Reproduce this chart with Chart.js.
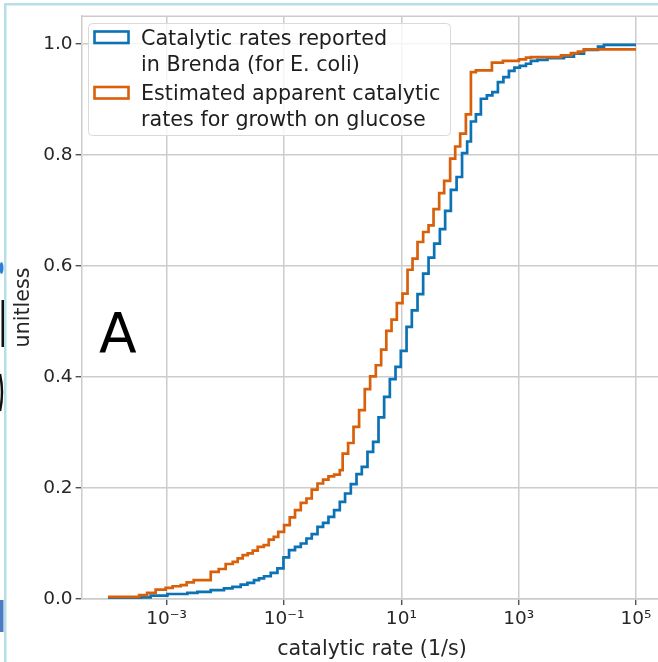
<!DOCTYPE html>
<html><head><meta charset="utf-8">
<script src="https://cdn.jsdelivr.net/npm/chart.js@4.4.1/dist/chart.umd.min.js"></script>
<style>
html,body{margin:0;padding:0;overflow:hidden;background:#fff;width:658px;height:662px}
#wrap{position:absolute;left:0;top:0;width:700px;height:662px}
</style></head><body>
<div id="wrap"><canvas id="c" width="700" height="662"></canvas></div>
<script>
// ---- data (log10 of catalytic rate where each step starts, cumulative fraction) ----
const brendaExp = [-4.000,-3.444,-3.273,-2.988,-2.647,-2.476,-2.249,-2.023,-1.879,-1.738,-1.623,-1.511,-1.426,-1.340,-1.226,-1.112,-1.009,-0.914,-0.812,-0.714,-0.617,-0.527,-0.429,-0.334,-0.242,-0.146,-0.049,0.041,0.139,0.236,0.326,0.423,0.519,0.611,0.707,0.804,0.901,0.991,1.089,1.179,1.276,1.372,1.464,1.560,1.657,1.747,1.844,1.942,2.035,2.122,2.186,2.271,2.356,2.458,2.552,2.646,2.740,2.834,2.928,3.021,3.124,3.209,3.320,3.490,3.772,3.942,4.113,4.352,4.454,5.000];
const brendaCum = [0.002,0.003,0.006,0.009,0.011,0.013,0.016,0.019,0.022,0.026,0.029,0.034,0.037,0.041,0.047,0.055,0.075,0.088,0.094,0.100,0.109,0.117,0.130,0.137,0.148,0.160,0.175,0.190,0.207,0.225,0.238,0.265,0.283,0.327,0.364,0.396,0.418,0.447,0.490,0.520,0.549,0.586,0.615,0.640,0.666,0.699,0.737,0.760,0.803,0.824,0.860,0.873,0.901,0.907,0.913,0.931,0.940,0.951,0.957,0.960,0.964,0.969,0.971,0.974,0.977,0.982,0.989,0.995,0.998,0.998];
const glucoseExp = [-4.000,-3.469,-3.333,-3.188,-3.017,-2.898,-2.761,-2.659,-2.539,-2.249,-2.113,-1.994,-1.874,-1.789,-1.704,-1.618,-1.533,-1.448,-1.345,-1.260,-1.175,-1.098,-0.999,-0.902,-0.812,-0.714,-0.617,-0.527,-0.429,-0.334,-0.242,-0.146,-0.049,0.000,0.093,0.185,0.280,0.377,0.468,0.565,0.656,0.744,0.833,0.923,1.020,1.106,1.191,1.276,1.372,1.464,1.549,1.645,1.730,1.832,1.918,2.003,2.100,2.186,2.271,2.544,2.731,3.004,3.124,3.209,3.721,3.891,4.011,4.113,5.000];
const glucoseCum = [0.004,0.007,0.011,0.017,0.020,0.023,0.025,0.030,0.034,0.049,0.054,0.063,0.067,0.073,0.079,0.082,0.087,0.094,0.097,0.107,0.112,0.121,0.133,0.147,0.160,0.173,0.181,0.197,0.208,0.215,0.221,0.224,0.232,0.262,0.281,0.310,0.340,0.378,0.401,0.421,0.449,0.483,0.503,0.533,0.550,0.593,0.613,0.643,0.661,0.673,0.702,0.731,0.753,0.793,0.815,0.838,0.873,0.949,0.952,0.966,0.969,0.972,0.975,0.976,0.979,0.983,0.986,0.990,0.990];

const seriesNames = [['Catalytic rates reported','in Brenda (for E. coli)'],['Estimated apparent catalytic','rates for growth on glucose']];
const xTickExp = [-3,-1,1,3,5];
const xTickLabels = ['10\u207B\u00B3','10\u207B\u00B9','10\u00B9','10\u00B3','10\u2075'];
const yTicks = [0,0.2,0.4,0.6,0.8,1.0];
const xRangeExp = [-4.45, 5.45];
const yRange = [0, 1.05];

const BLUE = '#0a72b5';
const ORANGE = '#d9600b';
const GRID = '#cccccc';
const FONT = '"DejaVu Sans", sans-serif';

const toPoints = (ex, cum) => ex.map((e,i)=>({x: Math.pow(10,e), y: cum[i]}));

Chart.defaults.font.family = FONT;

const decor = {
  id: 'decor',
  beforeDraw(chart){
    const ctx = chart.ctx; ctx.save();
    ctx.fillStyle = '#fff'; ctx.fillRect(0,0,chart.width,chart.height);
    ctx.restore();
  },
  beforeDatasetsDraw(chart){
    const {ctx, chartArea:a} = chart; ctx.save();
    ctx.strokeStyle = GRID; ctx.lineWidth = 1.5;
    ctx.beginPath(); ctx.moveTo(a.left, a.top+0.25); ctx.lineTo(a.right, a.top+0.25);
    ctx.moveTo(a.right, a.top); ctx.lineTo(a.right, a.bottom); ctx.stroke();
    ctx.restore();
  },
  afterDatasetsDraw(chart){
    const ctx = chart.ctx; ctx.save();
    // legend box
    const bx=88.5, by=23.5, bw=362, bh=112, r=4;
    ctx.beginPath();
    ctx.moveTo(bx+r,by); ctx.lineTo(bx+bw-r,by); ctx.arcTo(bx+bw,by,bx+bw,by+r,r);
    ctx.lineTo(bx+bw,by+bh-r); ctx.arcTo(bx+bw,by+bh,bx+bw-r,by+bh,r);
    ctx.lineTo(bx+r,by+bh); ctx.arcTo(bx,by+bh,bx,by+bh-r,r);
    ctx.lineTo(bx,by+r); ctx.arcTo(bx,by,bx+r,by,r); ctx.closePath();
    ctx.fillStyle='rgba(255,255,255,0.8)'; ctx.fill();
    ctx.strokeStyle='#d9d9d9'; ctx.lineWidth=1; ctx.stroke();
    const cols=[BLUE,ORANGE], sw=[31.5,87], base=[[45,71],[100,126]];
    ctx.font = '20.7px '+FONT; ctx.fillStyle='#1e1e1e'; ctx.textBaseline='alphabetic'; ctx.textAlign='left';
    for(let i=0;i<2;i++){
      ctx.strokeStyle=cols[i]; ctx.lineWidth=2.6;
      ctx.strokeRect(94.5, sw[i], 34, 11.5);
      ctx.fillText(seriesNames[i][0], 141, base[i][0]);
      ctx.fillText(seriesNames[i][1], 141, base[i][1]);
    }
    // panel letter
    ctx.font = '55px '+FONT; ctx.fillStyle='#000';
    ctx.fillText('A', 99, 352);
    ctx.restore();
  },
  afterDraw(chart){
    const ctx = chart.ctx; ctx.save();
    // clipped neighbour-panel remnants at far left
    ctx.fillStyle='#2f7fd6'; ctx.beginPath(); ctx.ellipse(1.5,268,2,6,0,0,Math.PI*2); ctx.fill();
    ctx.fillStyle='#111'; ctx.fillRect(1.5,300,2.5,47);
    ctx.strokeStyle='#111'; ctx.lineWidth=2.5; ctx.beginPath();
    ctx.moveTo(0,374); ctx.quadraticCurveTo(4,392,0,411); ctx.stroke();
    ctx.fillStyle='#4b7cc4'; ctx.fillRect(0,600,3.5,32);
    // light-blue frame of the figure
    ctx.fillStyle='#b7dfe6';
    ctx.fillRect(4,3,700,2.5);
    ctx.fillRect(4,3,2.5,662);
    ctx.restore();
  }
};

new Chart(document.getElementById('c'), {
  type: 'line',
  data: {
    datasets: [
      { label: seriesNames[0].join(' '), data: toPoints(brendaExp, brendaCum), borderColor: BLUE,
        borderWidth: 2.7, pointRadius: 0, fill: false, stepped: 'before', order: 2, borderJoinStyle: 'miter' },
      { label: seriesNames[1].join(' '), data: toPoints(glucoseExp, glucoseCum), borderColor: ORANGE,
        borderWidth: 2.7, pointRadius: 0, fill: false, stepped: 'before', order: 1, borderJoinStyle: 'miter' }
    ]
  },
  options: {
    responsive: false, animation: false, devicePixelRatio: 1,
    layout: { padding: { left: 0, top: 16, right: 37.6, bottom: 0 } },
    plugins: { legend: { display: false }, tooltip: { enabled: false } },
    scales: {
      x: {
        type: 'logarithmic', bounds: 'data',
        min: Math.pow(10, xRangeExp[0]), max: Math.pow(10, xRangeExp[1]),
        afterBuildTicks: (s) => { s.ticks = xTickExp.map(e => ({ value: Math.pow(10, e) })); },
        afterFit: (s) => { s.height = 63; },
        ticks: { callback: (v, i) => xTickLabels[i], font: { size: 18.5, family: FONT }, color: '#262626',
                 padding: 3, maxRotation: 0, autoSkip: false },
        grid: { color: GRID, lineWidth: 1.5, tickColor: '#333', tickLength: 6, tickWidth: 1.2 },
        border: { color: GRID, width: 1.5 },
        title: { display: true, text: 'catalytic rate (1/s)', font: { size: 20.6, family: FONT }, color: '#262626',
                 padding: { top: 0, bottom: 0 } }
      },
      y: {
        type: 'linear', bounds: 'data', min: yRange[0], max: yRange[1],
        afterBuildTicks: (s) => { s.ticks = yTicks.map(v => ({ value: v })); },
        afterFit: (s) => { s.width = 81.6; },
        ticks: { callback: (v) => Number(v).toFixed(1), font: { size: 18.5, family: FONT }, color: '#262626', padding: 3 },
        grid: { color: GRID, lineWidth: 1.5, tickColor: '#333', tickLength: 6, tickWidth: 1.2 },
        border: { color: GRID, width: 1.5 },
        title: { display: true, text: 'unitless', font: { size: 20.6, family: FONT }, color: '#262626',
                 padding: { top: 11, bottom: 0 } }
      }
    }
  },
  plugins: [decor]
});
</script>
</body></html>
